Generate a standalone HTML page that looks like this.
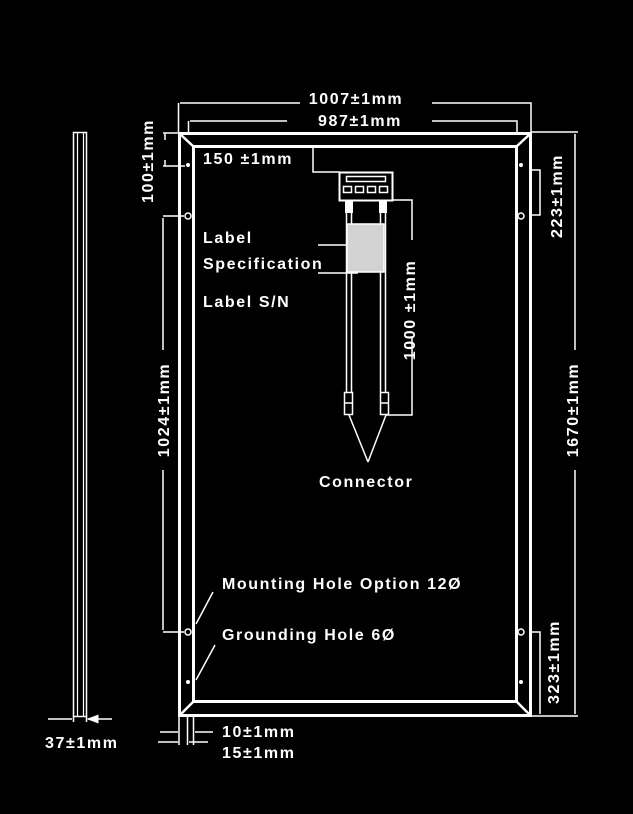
<!DOCTYPE html>
<html><head><meta charset="utf-8"><style>
html,body{margin:0;padding:0;background:#000;}
svg{display:block}
text{font-family:"Liberation Sans",sans-serif;font-weight:bold;font-size:16px;fill:#fff;letter-spacing:1.6px;}
</style></head><body>
<svg width="633" height="814" viewBox="0 0 633 814">
<defs><marker id="a" markerWidth="8" markerHeight="6" refX="7" refY="3" orient="auto"><path d="M0,0 L8,3 L0,6" fill="#fff"/></marker></defs>
<g stroke="#fff" fill="none">
<rect x="179.5" y="133.5" width="351" height="582" stroke-width="3"/>
<rect x="193.5" y="146.5" width="323" height="555" stroke-width="3"/>
<path d="M180,134 L194,147 M530,134 L516,147 M180,715 L194,701 M530,715 L516,701" stroke-width="2.5"/>
<circle cx="188" cy="216" r="3" stroke-width="1.5"/><circle cx="188" cy="632" r="3" stroke-width="1.5"/>
<circle cx="521" cy="216" r="3" stroke-width="1.5"/><circle cx="521" cy="632" r="3" stroke-width="1.5"/>
<rect x="73.5" y="132.5" width="13" height="584" stroke-width="1.5"/>
<path d="M77.5,133 V716 M83.5,133 V716" stroke-width="1.2"/>
<g stroke-width="1.5">
<path d="M73.5,716 V722 M86.5,716 V722 M48,719 H72 M112,719 H88" marker-end="url(#a)"/>
<path d="M178.5,103 V132 M300,103 H180 M432,103 H531 V132" />
<path d="M188.5,121 V132 M287,121 H190 M432,121 H517 V132"/>
<path d="M163,133 H180 M163,166 H185 M165,140 V133 M165,160 V166"/>
<path d="M163,216 H184 M163,632 H184 M163,350 V218 M163,470 V630"/>
<path d="M531,132 H578 M531,716 H578 M575,350 V134 M575,470 V714"/>
<path d="M532,170 H540 V215 H532 M532,632 H540 V714"/>
<path d="M313,146 V172 H340"/>
<path d="M392,200 H412 V240 M412,337 V415 H386"/>
<path d="M318,245 H362 M318,273 H358"/>
<path d="M368,462 L349,415 M368,462 L386,415"/>
<path d="M213,592 L196,624 M215,645 L196,680"/>
<path d="M179,716 V745 M187.5,716 V745 M193.5,716 V745 M160,732 H178 M213,732 H195 M158,742 H178 M208,742 H189"/>
</g>
<rect x="339.5" y="172.5" width="53" height="28" stroke-width="2"/>
<rect x="346.5" y="176.5" width="39" height="5" stroke-width="1.5"/>
<rect x="343.5" y="186.5" width="8" height="6" stroke-width="1.5"/>
<rect x="355.5" y="186.5" width="8" height="6" stroke-width="1.5"/>
<rect x="367.5" y="186.5" width="8" height="6" stroke-width="1.5"/>
<rect x="379.5" y="186.5" width="8" height="6" stroke-width="1.5"/>
<rect x="345" y="201" width="8" height="12" fill="#fff" stroke="none"/>
<rect x="379" y="201" width="8" height="12" fill="#fff" stroke="none"/>
<path d="M346.5,213 V392 M351.5,213 V392 M380.5,213 V392 M385.5,213 V392" stroke-width="1.5"/>
<rect x="344.5" y="392.5" width="8" height="22" stroke-width="1.5"/>
<rect x="380.5" y="392.5" width="8" height="22" stroke-width="1.5"/>
<path d="M344,403 H353 M380,403 H389" stroke-width="1.5"/>
<rect x="347" y="224" width="37" height="48" fill="#d3d3d3" stroke="#fff" stroke-width="1.5"/>
</g>
<g fill="#fff">
<circle cx="188" cy="165" r="2"/><circle cx="188" cy="682" r="2"/>
<circle cx="521" cy="165" r="2"/><circle cx="521" cy="682" r="2"/>
</g>
<text x="356" y="104" text-anchor="middle">1007±1mm</text>
<text x="360" y="126" text-anchor="middle">987±1mm</text>
<text x="203" y="164">150 ±1mm</text>
<text x="203" y="243">Label</text>
<text x="203" y="269">Specification</text>
<text x="203" y="307">Label S/N</text>
<text x="319" y="487">Connector</text>
<text x="222" y="589">Mounting Hole Option 12Ø</text>
<text x="222" y="640">Grounding Hole 6Ø</text>
<text x="45" y="748">37±1mm</text>
<text x="222" y="737">10±1mm</text>
<text x="222" y="758">15±1mm</text>
<text transform="translate(153,161) rotate(-90)" text-anchor="middle">100±1mm</text>
<text transform="translate(169,410) rotate(-90)" text-anchor="middle">1024±1mm</text>
<text transform="translate(415,310) rotate(-90)" text-anchor="middle">1000 ±1mm</text>
<text transform="translate(562,196) rotate(-90)" text-anchor="middle">223±1mm</text>
<text transform="translate(578,410) rotate(-90)" text-anchor="middle">1670±1mm</text>
<text transform="translate(559,662) rotate(-90)" text-anchor="middle">323±1mm</text>
</svg>
</body></html>
